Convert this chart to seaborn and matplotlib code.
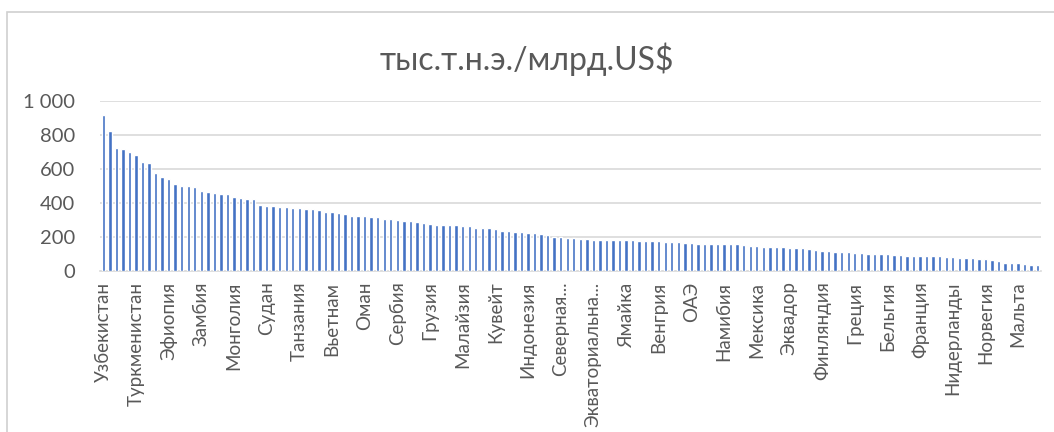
import numpy as np
import pandas as pd
import matplotlib
matplotlib.use("Agg")
import matplotlib.pyplot as plt
import seaborn as sns

# Emission intensity by country, sorted descending (thousand t CO2e per billion US$)
values = [
    916, 822, 719, 713, 699, 680, 640, 632, 571, 552,
    538, 510, 496, 496, 489, 465, 463, 457, 449, 449,
    435, 427, 422, 422, 386, 382, 382, 376, 374, 370,
    370, 362, 362, 354, 346, 342, 337, 331, 323, 323,
    323, 313, 315, 301, 301, 295, 289, 289, 283, 277,
    275, 269, 269, 269, 267, 261, 261, 248, 248, 248,
    242, 234, 234, 228, 228, 222, 222, 214, 206, 198,
    198, 194, 194, 186, 186, 182, 180, 180, 180, 180,
    180, 178, 176, 174, 174, 172, 168, 168, 168, 162,
    162, 156, 156, 155, 155, 154, 154, 154, 152, 147,
    146, 141, 140, 140, 138, 134, 133, 133, 127, 119,
    113, 112, 108, 107, 106, 105, 104, 100, 98, 98,
    97, 92, 92, 87, 86, 86, 86, 86, 85, 78,
    78, 73, 73, 72, 65, 65, 59, 55, 47, 47,
    43, 39, 31, 31,
]

# Every fifth country is labelled on the axis
tick_labels = [
    "Узбекистан", "Туркменистан", "Эфиопия", "Замбия", "Монголия",
    "Судан", "Танзания", "Вьетнам", "Оман", "Сербия",
    "Грузия", "Малайзия", "Кувейт", "Индонезия", "Северная...",
    "Экваториальна...", "Ямайка", "Венгрия", "ОАЭ", "Намибия",
    "Мексика", "Эквадор", "Финляндия", "Греция", "Бельгия",
    "Франция", "Нидерланды", "Норвегия", "Мальта",
]
label_step = 5

y_ticks = [0, 200, 400, 600, 800, 1000]
y_tick_labels = ["0", "200", "400", "600", "800", "1 000"]

title = "тыс.т.н.э./млрд.US$"

df = pd.DataFrame({"pos": np.arange(len(values)), "value": values})

sns.set_theme(style="white")
plt.rcParams["font.family"] = ["Lato", "DejaVu Sans"]

text_gray = "#595959"
grid_gray = "#D9D9D9"
bar_blue = "#4472C4"

fig = plt.figure(figsize=(10.54, 4.32), dpi=100)
ax = fig.add_axes([100 / 1054, 1 - 270.5 / 432, 941 / 1054, 170 / 432])

sns.barplot(data=df, x="pos", y="value", color=bar_blue, width=0.52,
            saturation=1, ax=ax, zorder=3)

ax.set_xlim(-0.5, len(values) - 0.5)
ax.set_ylim(0, 1000)

ax.set_yticks(y_ticks)
ax.set_yticklabels(y_tick_labels)
ax.yaxis.grid(True, color=grid_gray, linewidth=1.2, zorder=0)
ax.set_axisbelow(True)

ticks = list(range(0, len(values), label_step))[: len(tick_labels)]
ax.set_xticks(ticks)
ax.set_xticklabels(tick_labels, rotation=90, va="top", ha="center")

ax.tick_params(axis="x", length=0, colors=text_gray, labelsize=13.5, pad=8)
ax.tick_params(axis="y", length=0, colors=text_gray, labelsize=14.5, pad=18)

ax.set_xlabel("")
ax.set_ylabel("")
for side in ["top", "right", "left"]:
    ax.spines[side].set_visible(False)
ax.spines["bottom"].set_color(grid_gray)
ax.spines["bottom"].set_linewidth(1.2)

fig.text(0.5, 1 - 59 / 432, title, ha="center", va="center",
         fontsize=23, color=text_gray)

# Chart-area frame
frame = plt.Rectangle((7 / 1054, -0.01), 1.02, 1 - 12 / 432 + 0.01,
                      transform=fig.transFigure, fill=False,
                      edgecolor="#D0D0D0", linewidth=1.2)
fig.patches.append(frame)

fig.savefig("out.png", dpi=100)
